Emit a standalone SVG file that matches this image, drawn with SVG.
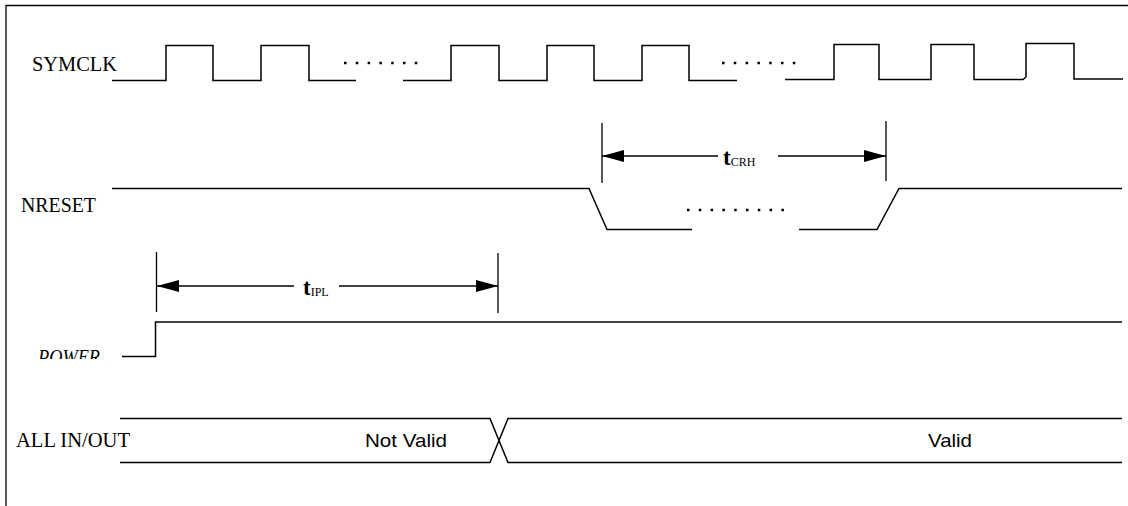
<svg xmlns="http://www.w3.org/2000/svg" width="1128" height="506" viewBox="0 0 1128 506">
<style>
.sig{fill:none;stroke:#000;stroke-width:1.5}
.bar{fill:none;stroke:#000;stroke-width:1.3}
.dim{fill:none;stroke:#000;stroke-width:1.3}
.dot{fill:none;stroke:#000;stroke-width:2.5;stroke-dasharray:2.5 9.3}
.lbl{font-family:"Liberation Serif","Times New Roman",serif;font-size:20px;fill:#000}
.val{font-family:"Liberation Sans",Arial,sans-serif;font-size:19px;fill:#000}
.tm{font-family:"Liberation Serif","Times New Roman",serif;font-weight:bold;font-size:23px;fill:#000}
.sub{font-family:"Liberation Serif","Times New Roman",serif;font-weight:normal;font-size:12px}
</style>
<defs>
<marker id="ah" viewBox="0 0 22 12" refX="22" refY="6" markerWidth="22" markerHeight="12" markerUnits="userSpaceOnUse" orient="auto">
<path d="M0,0 L22,6 L0,12 z" fill="#000"/>
</marker>
<clipPath id="pclip"><rect x="0" y="330" width="120" height="29"/></clipPath>
</defs>
<rect width="1128" height="506" fill="#fff"/>
<g id="frame"><path d="M6,506 V5.5 H1128" class="bar"/></g>

<g id="symclk">
<text class="lbl" x="32" y="71" textLength="85" lengthAdjust="spacingAndGlyphs">SYMCLK</text>
<path class="sig" d="M112,80.5 H166 V45.5 H213 V80.5 H261 V45.5 H309 V80.5 H356"/>
<path class="dot" d="M344,63 H420"/>
<path class="sig" d="M403,80.5 H451 V45.5 H499 V80.5 H547 V45.5 H594 V80.5 H642 V45.5 H689 V80.5 H737"/>
<path class="dot" d="M722,63 H796"/>
<path class="sig" d="M785,79.5 H834 V44.5 H879 V79.5 H931 V44.5 H974 V79.5 H1023 L1026,77 V43.5 H1074 V79 H1123"/>
</g>

<g id="nreset">
<text class="lbl" x="21" y="212" textLength="75" lengthAdjust="spacingAndGlyphs">NRESET</text>
<path class="sig" d="M112,188.5 H589 L607,229.5 H692"/>
<path class="dot" d="M687,210 H785"/>
<path class="sig" d="M799,229.5 H877 L899,188.5 H1122"/>
</g>

<g id="power">
<g clip-path="url(#pclip)"><text class="lbl" x="38" y="364" font-style="italic" textLength="62" lengthAdjust="spacingAndGlyphs">POWER</text></g>
<path class="sig" d="M122,356.5 H155.5 V322 H1122"/>
</g>

<g id="allio">
<text class="lbl" x="16" y="447" textLength="114" lengthAdjust="spacingAndGlyphs">ALL IN/OUT</text>
<path class="sig" d="M120,418.5 H490 L508,462.5 H1122"/>
<path class="sig" d="M120,462.5 H490 L508,418.5 H1122"/>
<text class="val" x="365" y="447" textLength="82" lengthAdjust="spacingAndGlyphs">Not Valid</text>
<text class="val" x="928" y="447" textLength="44" lengthAdjust="spacingAndGlyphs">Valid</text>
</g>

<g id="tcrh">
<path class="bar" d="M602,123 V183 M886,121 V181"/>
<text class="tm" x="723" y="165">t<tspan class="sub" dy="1">CRH</tspan></text>
</g>

<g id="tipl">
<path class="bar" d="M156.5,252 V312 M498,253 V313"/>
<text class="tm" x="303" y="295">t<tspan class="sub" dy="1">IPL</tspan></text>
</g>

<g id="connectors">
<path class="dim" d="M718,156 H602" marker-end="url(#ah)"/>
<path class="dim" d="M778,156 H886" marker-end="url(#ah)"/>
<path class="dim" d="M294,286 H157" marker-end="url(#ah)"/>
<path class="dim" d="M339,286 H498" marker-end="url(#ah)"/>
</g>
</svg>
